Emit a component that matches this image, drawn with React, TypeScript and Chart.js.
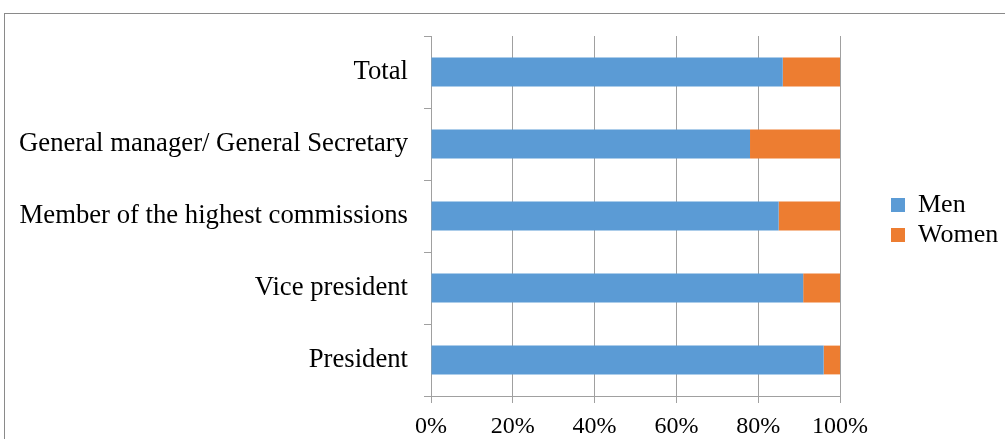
import React, { useEffect, useRef } from "react";
import { Chart, registerables } from "chart.js";

Chart.register(...registerables);

const categories = [
  "Total",
  "General manager/ General Secretary",
  "Member of the highest commissions",
  "Vice president",
  "President",
];
const menValues = [86, 78, 85, 91, 96];
const womenValues = [14, 22, 15, 9, 4];
const seriesNames = ["Men", "Women"];
const seriesColors = ["#5B9BD5", "#ED7D31"];
const xTickValues = [0, 20, 40, 60, 80, 100];

const SERIF = "'Times New Roman', 'Liberation Serif', serif";
const GRID = "#a0a0a0";

const legendPlacer = {
  id: "legendPlacer",
  afterLayout(chart: any) {
    const l = chart.legend;
    if (!l) return;
    const w = l.width;
    l.left = 887;
    l.right = 887 + w;
    l.top = 36;
    l.bottom = 404;
    l.height = 368;
  },
};

export default function App() {
  const ref = useRef<HTMLCanvasElement | null>(null);

  useEffect(() => {
    if (!ref.current) return;
    const chart = new Chart(ref.current, {
      type: "bar",
      data: {
        labels: categories,
        datasets: [
          {
            label: seriesNames[0],
            data: menValues,
            backgroundColor: seriesColors[0],
            borderWidth: 0,
            barPercentage: 0.4,
            categoryPercentage: 1,
          },
          {
            label: seriesNames[1],
            data: womenValues,
            backgroundColor: seriesColors[1],
            borderWidth: 0,
            barPercentage: 0.4,
            categoryPercentage: 1,
          },
        ],
      },
      options: {
        indexAxis: "y",
        responsive: false,
        animation: false,
        devicePixelRatio: 1,
        layout: { padding: { left: 0, top: 36, right: 165, bottom: 0 } },
        scales: {
          x: {
            stacked: true,
            min: xTickValues[0],
            max: xTickValues[xTickValues.length - 1],
            afterFit: (s: any) => {
              s.height = 43;
            },
            ticks: {
              stepSize: 20,
              color: "#000",
              padding: 9,
              font: { family: SERIF, size: 24 },
              callback: (v: any) => v + "%",
            },
            grid: { color: GRID, tickLength: 7, lineWidth: 1 },
            border: { color: GRID, width: 1 },
          },
          y: {
            stacked: true,
            afterFit: (s: any) => {
              s.width = 431;
            },
            ticks: {
              color: "#000",
              padding: 16,
              font: { family: SERIF, size: 26.7 },
            },
            grid: {
              color: GRID,
              tickLength: 7,
              drawOnChartArea: false,
              drawTicks: true,
              offset: true,
            },
            border: { color: GRID, width: 1 },
          },
        },
        plugins: {
          legend: {
            display: true,
            position: "chartArea",
            align: "center",
            labels: {
              boxWidth: 14,
              boxHeight: 14,
              padding: 4,
              color: "#000",
              font: { family: SERIF, size: 26 },
            },
          },
          tooltip: { enabled: false },
        },
      },
      plugins: [legendPlacer],
    });
    return () => chart.destroy();
  }, []);

  return (
    <div
      style={{
        position: "fixed",
        left: 0,
        top: 0,
        width: 1005,
        height: 439,
        overflow: "hidden",
        background: "#fff",
      }}
    >
      <div
        style={{
          position: "absolute",
          left: 4,
          top: 13,
          width: 1100,
          height: 600,
          borderLeft: "1px solid #8a8a8a",
          borderTop: "1px solid #8a8a8a",
        }}
      />
      <canvas
        ref={ref}
        width={1005}
        height={439}
        style={{ position: "absolute", left: 0, top: 0, width: 1005, height: 439 }}
      />
    </div>
  );
}
